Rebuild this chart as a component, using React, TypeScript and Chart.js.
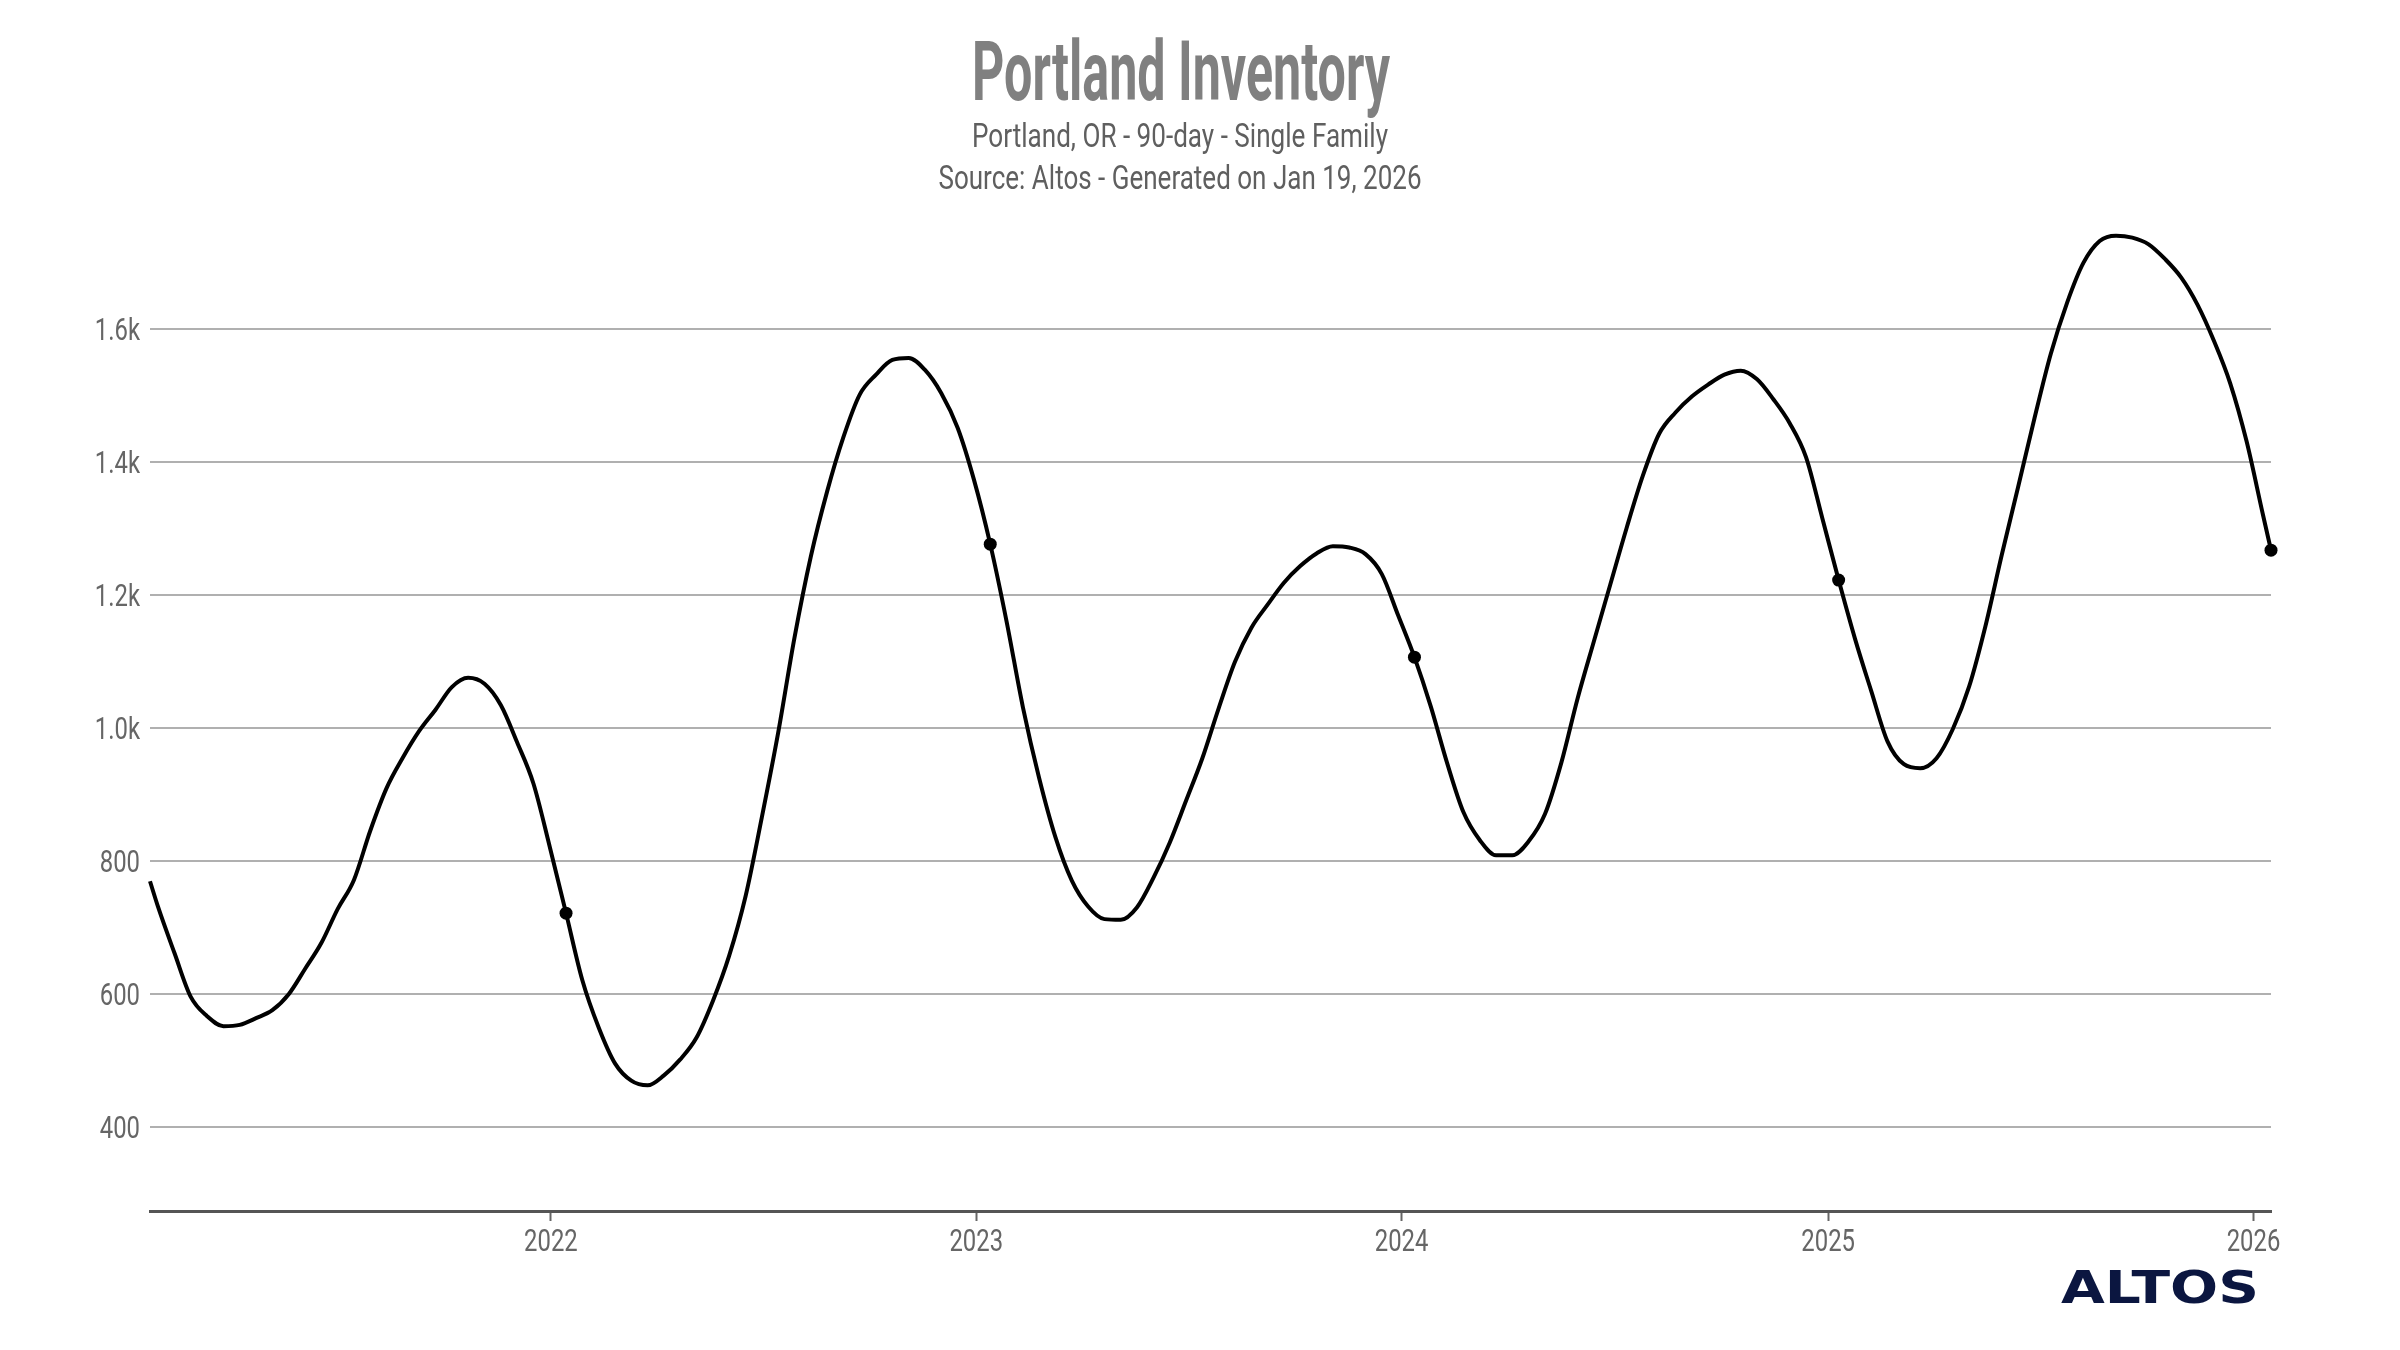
import React, { useEffect, useRef } from "react";
import { Chart, registerables } from "chart.js";

Chart.register(...registerables);

// ---- Data ----
const dates: string[] = [
  "2021-01-22", "2021-01-29", "2021-02-12", "2021-02-26", "2021-03-12", "2021-03-26", "2021-04-09", "2021-04-23",
  "2021-05-07", "2021-05-21", "2021-06-04", "2021-06-18", "2021-07-02", "2021-07-16", "2021-07-30", "2021-08-13",
  "2021-08-27", "2021-09-10", "2021-09-24", "2021-10-08", "2021-10-22", "2021-11-05", "2021-11-19", "2021-12-03",
  "2021-12-17", "2021-12-31",
  "2022-01-14", "2022-01-28", "2022-02-11", "2022-02-25", "2022-03-11", "2022-03-25", "2022-04-08", "2022-04-22",
  "2022-05-06", "2022-05-20", "2022-06-03", "2022-06-17", "2022-07-01", "2022-07-15", "2022-07-29", "2022-08-12",
  "2022-08-26", "2022-09-09", "2022-09-23", "2022-10-07", "2022-10-21", "2022-11-04", "2022-11-18", "2022-12-02",
  "2022-12-16", "2022-12-30",
  "2023-01-13", "2023-01-27", "2023-02-10", "2023-02-24", "2023-03-10", "2023-03-24", "2023-04-07", "2023-04-21",
  "2023-05-05", "2023-05-19", "2023-06-02", "2023-06-16", "2023-06-30", "2023-07-14", "2023-07-28", "2023-08-11",
  "2023-08-25", "2023-09-08", "2023-09-22", "2023-10-06", "2023-10-20", "2023-11-03", "2023-11-17", "2023-12-01",
  "2023-12-15", "2023-12-29",
  "2024-01-12", "2024-01-26", "2024-02-09", "2024-02-23", "2024-03-08", "2024-03-22", "2024-04-05", "2024-04-19",
  "2024-05-03", "2024-05-17", "2024-05-31", "2024-06-14", "2024-06-28", "2024-07-12", "2024-07-26", "2024-08-09",
  "2024-08-23", "2024-09-06", "2024-09-20", "2024-10-04", "2024-10-18", "2024-11-01", "2024-11-15", "2024-11-29",
  "2024-12-13", "2024-12-27",
  "2025-01-10", "2025-01-24", "2025-02-07", "2025-02-21", "2025-03-07", "2025-03-21", "2025-04-04", "2025-04-18",
  "2025-05-02", "2025-05-16", "2025-05-30", "2025-06-13", "2025-06-27", "2025-07-11", "2025-07-25", "2025-08-08",
  "2025-08-22", "2025-09-05", "2025-09-19", "2025-10-03", "2025-10-17", "2025-10-31", "2025-11-14", "2025-11-28",
  "2025-12-12", "2025-12-26",
  "2026-01-09", "2026-01-16",
];

const inventory: number[] = [
  770, 731, 662, 596, 567, 552, 554, 564,
  576, 600, 638, 677, 728, 772, 846, 910,
  956, 996, 1028, 1062, 1076, 1067, 1035, 979,
  917, 822,
  722, 621, 550, 496, 470, 463, 478, 502,
  535, 590, 658, 747, 866, 993, 1136, 1258,
  1356, 1438, 1502, 1532, 1554, 1557, 1539, 1504,
  1452, 1374,
  1277, 1161, 1032, 925, 836, 771, 732, 713,
  712, 731, 775, 828, 891, 955, 1030, 1100,
  1151, 1186, 1219, 1244, 1263, 1274, 1272, 1262,
  1232, 1170,
  1107, 1033, 948, 874, 832, 809, 809, 830,
  871, 948, 1045, 1131, 1216, 1301, 1380, 1443,
  1475, 1499, 1517, 1532, 1538, 1525, 1495, 1459,
  1408, 1316,
  1223, 1135, 1056, 980, 946, 940, 955, 999,
  1063, 1154, 1261, 1363, 1466, 1563, 1640, 1700,
  1733, 1741, 1738, 1728, 1706, 1678, 1637, 1583,
  1519, 1432,
  1322, 1268,
];

const highlightDates: string[] = ["2022-01-14", "2023-01-13", "2024-01-12", "2025-01-10", "2026-01-16"];
const yearTicks: number[] = [2022, 2023, 2024, 2025, 2026];
const valueTicks: number[] = [400, 600, 800, 1000, 1200, 1400, 1600];

const titleText = "Portland Inventory";
const subtitleText = "Portland, OR - 90-day - Single Family";
const sourceText = "Source: Altos - Generated on Jan 19, 2026";
const logoText = "ALTOS";

const SANS = "Roboto, 'Liberation Sans', 'DejaVu Sans', sans-serif";
const LABEL_FONT = `400 31px ${SANS}`;
const LABEL_SCALE = 0.77;
const LABEL_COLOR = "#666666";

function toTime(d: string): number {
  return Date.parse(d + "T00:00:00Z");
}

function formatValue(n: number): string {
  return n >= 1000 ? (n / 1000).toFixed(1) + "k" : String(n);
}

function drawFitted(
  ctx: CanvasRenderingContext2D,
  text: string,
  font: string,
  color: string,
  cx: number,
  baseline: number,
  width: number
) {
  ctx.save();
  ctx.font = font;
  const w = ctx.measureText(text).width || 1;
  ctx.translate(cx, baseline);
  ctx.scale(width / w, 1);
  ctx.fillStyle = color;
  ctx.textAlign = "center";
  ctx.textBaseline = "alphabetic";
  ctx.fillText(text, 0, 0);
  ctx.restore();
}

function drawScaled(
  ctx: CanvasRenderingContext2D,
  text: string,
  x: number,
  baseline: number,
  align: CanvasTextAlign
) {
  ctx.save();
  ctx.font = LABEL_FONT;
  ctx.translate(x, baseline);
  ctx.scale(LABEL_SCALE, 1);
  ctx.fillStyle = LABEL_COLOR;
  ctx.textAlign = align;
  ctx.textBaseline = "alphabetic";
  ctx.fillText(text, 0, 0);
  ctx.restore();
}

const headerPlugin = {
  id: "headerText",
  beforeDraw(chart: any) {
    const ctx = chart.ctx as CanvasRenderingContext2D;
    ctx.save();
    ctx.fillStyle = "#ffffff";
    ctx.fillRect(0, 0, chart.width, chart.height);
    ctx.restore();
  },
  afterDraw(chart: any) {
    const ctx = chart.ctx as CanvasRenderingContext2D;
    drawFitted(ctx, titleText, `bold 84px ${SANS}`, "#808080", 1181, 100, 418);
    drawFitted(ctx, subtitleText, `400 33px ${SANS}`, "#5f5f5f", 1180, 147, 416);
    drawFitted(ctx, sourceText, `400 33px ${SANS}`, "#5f5f5f", 1180, 189, 483);
    drawFitted(ctx, logoText, `bold 45px 'DejaVu Sans', 'Liberation Sans', sans-serif`, "#0b1640", 2160, 1303, 198);

    // axis labels, positioned by the chart's own scales
    const xs = chart.scales.x;
    const ys = chart.scales.y;
    xs.ticks.forEach((t: any) => {
      const x = xs.getPixelForValue(t.value);
      drawScaled(ctx, String(new Date(Number(t.value)).getUTCFullYear()), x, xs.top + 40, "center");
    });
    ys.ticks.forEach((t: any) => {
      const y = ys.getPixelForValue(t.value);
      drawScaled(ctx, formatValue(Number(t.value)), ys.right - 10, y + 11, "right");
    });
  },
};

export default function App() {
  const canvasRef = useRef<HTMLCanvasElement | null>(null);

  useEffect(() => {
    document.body.style.margin = "0";
    const canvas = canvasRef.current;
    if (!canvas) return;

    const points = dates.map((d, i) => ({ x: toTime(d), y: inventory[i] }));
    const radii = dates.map((d) => (highlightDates.includes(d) ? 6.5 : 0));

    const chart = new Chart(canvas, {
      type: "line",
      data: {
        datasets: [
          {
            data: points,
            borderColor: "#000000",
            borderWidth: 4,
            pointRadius: radii,
            pointHoverRadius: radii,
            pointBackgroundColor: "#000000",
            pointBorderColor: "#000000",
            pointBorderWidth: 0,
            cubicInterpolationMode: "monotone",
            borderJoinStyle: "round",
            clip: false,
            fill: false,
          } as any,
        ],
      },
      options: {
        animation: false,
        responsive: false,
        events: [],
        layout: { padding: { left: 0, right: 129, top: 235, bottom: 0 } },
        plugins: {
          legend: { display: false },
          tooltip: { enabled: false },
          title: { display: false },
        },
        scales: {
          x: {
            type: "linear",
            min: toTime(dates[0]),
            max: toTime(dates[dates.length - 1]),
            afterBuildTicks: (scale: any) => {
              scale.ticks = yearTicks.map((y) => ({ value: Date.UTC(y, 0, 1) }));
            },
            afterFit: (scale: any) => {
              scale.height = 139;
            },
            ticks: {
              display: false,
              autoSkip: false,
              maxRotation: 0,
            },
            grid: {
              display: true,
              drawOnChartArea: false,
              drawTicks: true,
              tickLength: 10,
              tickColor: "#666666",
              tickWidth: 2,
            } as any,
            border: { display: true, color: "#555555", width: 3 },
          },
          y: {
            type: "linear",
            min: 274,
            max: 1742,
            afterBuildTicks: (scale: any) => {
              scale.ticks = valueTicks.map((v) => ({ value: v }));
            },
            afterFit: (scale: any) => {
              scale.width = 150;
            },
            ticks: {
              display: false,
            },
            grid: {
              color: "#b0b0b0",
              lineWidth: 2,
              drawTicks: false,
            },
            border: { display: false },
          },
        },
      },
      plugins: [headerPlugin],
    });

    return () => {
      chart.destroy();
    };
  }, []);

  return (
    <canvas
      ref={canvasRef}
      width={2400}
      height={1350}
      style={{ display: "block", width: "2400px", height: "1350px" }}
    />
  );
}
